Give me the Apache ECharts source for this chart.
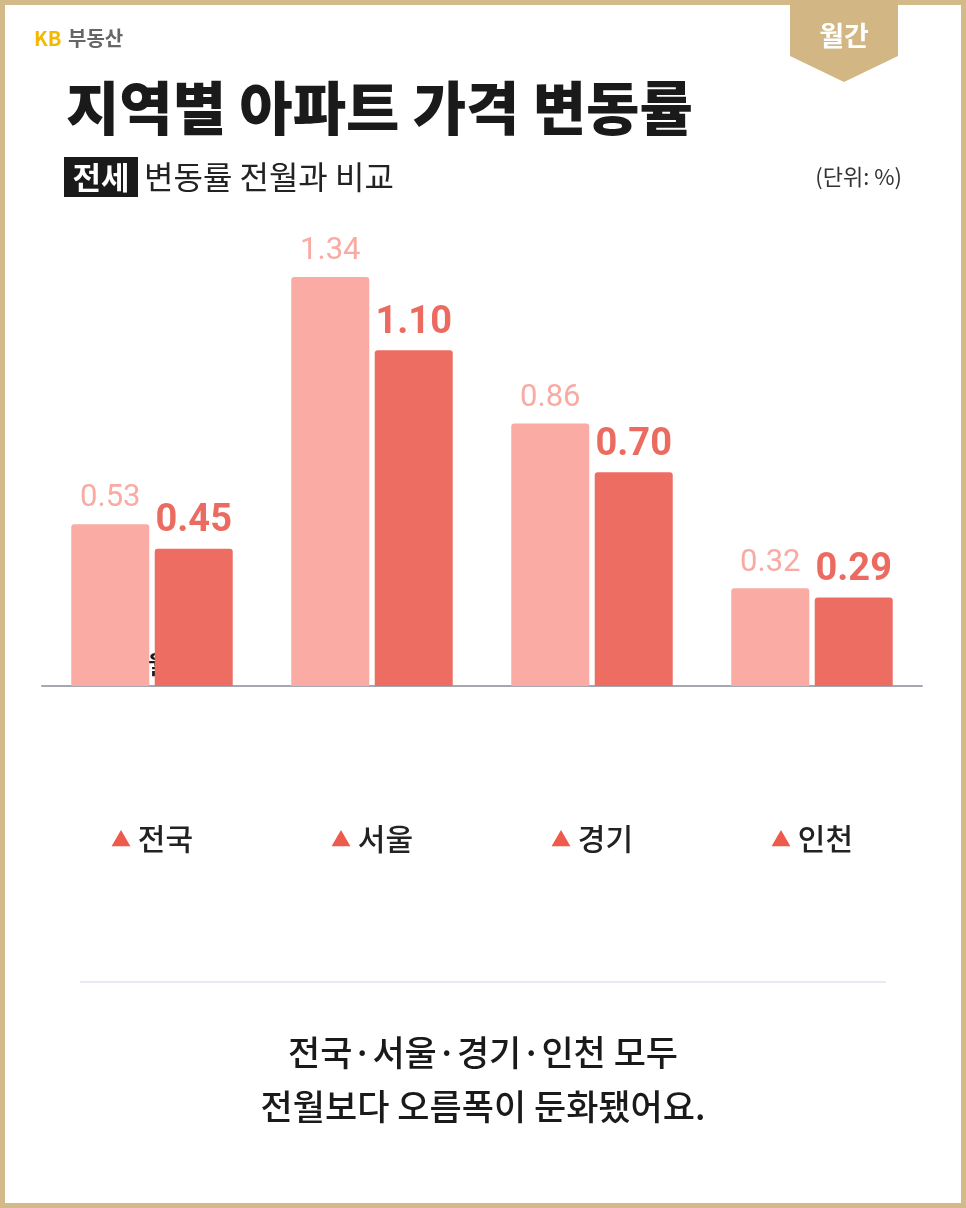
<!DOCTYPE html>
<html><head><meta charset="utf-8">
<script src="https://cdn.jsdelivr.net/npm/echarts@6/dist/echarts.min.js"></script>
<style>html,body{margin:0;padding:0;background:#fff}#c{width:966px;height:1208px}</style>
</head><body><div id="c"></div>
<script>
const categories = ['전국','서울','경기','인천'];
const julyValues = [0.53,1.34,0.86,0.32];
const augValues = [0.45,1.10,0.70,0.29];
const seriesNames = ['7월','8월'];
const F = '"Noto Sans CJK KR","Noto Sans",sans-serif';
const chart = echarts.init(document.getElementById('c'));
const baseGraphic = [
    {type:'rect',shape:{x:2.5,y:2.5,width:961,height:1203},style:{fill:'none',stroke:'#d4ba88',lineWidth:5}},
    {type:'polygon',shape:{points:[[790,0],[898,0],[898,56],[844,82],[790,56]]},style:{fill:'#d2b784'}},
    {type:'text',x:844,y:36,style:{text:'월간',fill:'#fff',font:'bold 27px '+F,textAlign:'center',textVerticalAlign:'middle'}},
    {type:'text',x:34,y:38,style:{text:'KB',fill:'#f5b800',font:'bold 20px '+F,textVerticalAlign:'middle'}},
    {type:'text',x:68,y:38,style:{text:'부동산',fill:'#666',font:'bold 20px '+F,textVerticalAlign:'middle'}},
    {type:'text',x:66,y:108,style:{text:'지역별 아파트 가격 변동률',fill:'#1a1a1a',font:'900 58px '+F,textVerticalAlign:'middle'}},
    {type:'rect',shape:{x:64,y:157,width:74,height:40},style:{fill:'#1a1a1a'}},
    {type:'text',x:101,y:177,style:{text:'전세',fill:'#fff',font:'bold 31px '+F,textAlign:'center',textVerticalAlign:'middle'}},
    {type:'text',x:144,y:177,style:{text:'변동률 전월과 비교',fill:'#222',font:'32px '+F,textVerticalAlign:'middle'}},
    {type:'text',x:902,y:177,style:{text:'(단위: %)',fill:'#333',font:'22px '+F,textAlign:'right',textVerticalAlign:'middle'}},
    {type:'line',shape:{x1:80,y1:982,x2:886,y2:982},style:{stroke:'#e6ebf5',lineWidth:2}},
    {type:'text',x:483,y:1053,style:{text:'전국·서울·경기·인천 모두',fill:'#1a1a1a',font:'500 35px '+F,textAlign:'center',textVerticalAlign:'middle'}},
    {type:'text',x:483,y:1107,style:{text:'전월보다 오름폭이 둔화됐어요.',fill:'#1a1a1a',font:'500 35px '+F,textAlign:'center',textVerticalAlign:'middle'}}
];
chart.setOption({
  backgroundColor:'#fff',
  animation:false,
  grid:{left:42,right:44,top:277,bottom:522,containLabel:false},
  xAxis:{type:'category',data:categories,
    axisLine:{lineStyle:{color:'#a5a8b0',width:2}},axisTick:{show:false},
    axisLabel:{margin:138,fontFamily:F,fontSize:30,color:'#222',fontWeight:500,
      formatter:v=>'{t|▲} '+v,rich:{t:{color:'#ee5a4c',fontSize:20,fontFamily:F}}}},
  yAxis:{type:'value',min:0,max:1.34,show:false,splitLine:{show:false}},
  series:[
    {name:seriesNames[0],type:'bar',data:julyValues,barWidth:78,barGap:'7%',
     itemStyle:{color:'#f9aba4',borderRadius:[3,3,0,0]},
     label:{show:true,position:'top',distance:10,color:'#f8aaa3',fontSize:31,fontFamily:'Roboto',formatter:p=>p.value.toFixed(2)}},
    {name:seriesNames[1],type:'bar',data:augValues,barWidth:78,
     itemStyle:{color:'#ee6d62',borderRadius:[3,3,0,0]},
     label:{show:true,position:'top',distance:8,color:'#ec6b60',fontSize:38,fontWeight:'bold',fontFamily:'Roboto',formatter:p=>p.value.toFixed(2)}}
  ],
  graphic:baseGraphic
});
const p1 = chart.convertToPixel({seriesIndex:0},[0,0]);
const p2 = chart.convertToPixel({seriesIndex:1},[0,0]);
const extra = [[p1,seriesNames[0]],[p2,seriesNames[1]]].map(([p,t])=>({type:'text',x:p[0],y:p[1]-22,
  style:{text:t,fill:'#1a1a1a',stroke:'#fff',lineWidth:4,font:'bold 25px '+F,textAlign:'center',textVerticalAlign:'middle'}}));
chart.setOption({graphic:baseGraphic.concat(extra)});
</script></body></html>
